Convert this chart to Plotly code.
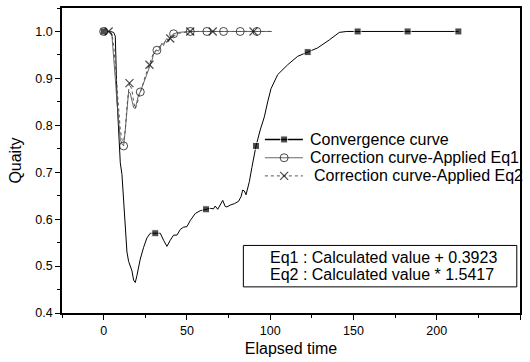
import plotly.graph_objects as go

# ---- data -------------------------------------------------------------
conv_t = [0, 2, 4, 6, 7, 8, 9, 10, 11, 12, 13, 14, 15, 16, 17, 18, 19, 20,
          21, 22, 24, 26, 28, 31, 34, 36, 38, 40, 42, 44, 46, 48, 50, 52,
          55, 58, 61.5, 64, 66, 67, 68.5, 70, 71.5, 73, 74, 76, 78.5, 81,
          82.5, 83.5, 84.5, 85.5, 86.5, 87.5, 89, 91.5, 94, 96.5, 98.5,
          100.5, 104.5, 110.5, 116.5, 122.5, 128.5, 135.5, 141.5, 146,
          152.5, 167, 182.5, 198, 213]
conv_q = [1.0, 1.0, 1.0, 0.998, 0.99, 0.86, 0.77, 0.72, 0.695, 0.64, 0.58,
          0.53, 0.51, 0.50, 0.49, 0.47, 0.465, 0.48, 0.50, 0.515, 0.54,
          0.56, 0.57, 0.57, 0.57, 0.555, 0.542, 0.555, 0.566, 0.566, 0.578,
          0.583, 0.584, 0.597, 0.612, 0.618, 0.621, 0.623, 0.622, 0.628,
          0.621, 0.63, 0.64, 0.627, 0.626, 0.63, 0.633, 0.638, 0.648, 0.662,
          0.66, 0.652, 0.665, 0.68, 0.71, 0.756, 0.79, 0.818, 0.85, 0.878,
          0.908, 0.929, 0.947, 0.956, 0.965, 0.982, 0.998, 1.0, 1.0, 1.0,
          1.0, 1.0, 1.0]
conv_marked = [0, 31, 61.5, 91.5, 122.5, 152.5, 182.5, 213]

eq1_t = [0, 2, 4, 5, 6, 7, 8, 9, 10, 11, 12, 13, 14, 15, 16, 17, 18, 19,
         20, 21, 22, 23, 24, 25, 26, 27, 28, 29, 30, 31, 32, 33, 34, 35, 36,
         37, 38, 39, 40, 41, 42, 45, 52, 62, 72, 82, 92, 101]
eq1_q = [1.0, 1.0, 1.0, 0.99, 0.95, 0.90, 0.85, 0.80, 0.77, 0.76, 0.756,
         0.79, 0.84, 0.872, 0.868, 0.85, 0.838, 0.836, 0.85, 0.865, 0.871,
         0.88, 0.892, 0.90, 0.91, 0.92, 0.928, 0.938, 0.952, 0.955, 0.96,
         0.958, 0.968, 0.975, 0.97, 0.98, 0.985, 0.978, 0.988, 0.992, 0.995,
         0.998, 1.0, 1.0, 1.0, 1.0, 1.0, 1.0]
eq1_marked = [0, 12, 22, 32, 42, 52, 62, 72, 82, 92]

eq2_t = [0, 3, 5, 6, 7, 8, 9, 10, 11, 12, 13, 14, 15.5, 17, 18, 19, 20, 21,
         22, 23, 24, 25, 26, 27.5, 29, 30, 32, 34, 36, 38, 40, 42, 45, 52,
         65.5, 78, 90, 101]
eq2_q = [1.0, 1.0, 0.995, 0.97, 0.93, 0.88, 0.83, 0.79, 0.77, 0.765, 0.79,
         0.84, 0.89, 0.875, 0.85, 0.835, 0.845, 0.86, 0.87, 0.88, 0.895,
         0.905, 0.915, 0.929, 0.945, 0.955, 0.962, 0.97, 0.975, 0.982,
         0.985, 0.99, 0.996, 1.0, 1.0, 1.0, 1.0, 1.0]
eq2_marked = [3, 15.5, 27.5, 40, 52, 65.5, 90]

x_ticks = [0, 50, 100, 150, 200, 250]
y_ticks = [0.4, 0.5, 0.6, 0.7, 0.8, 0.9, 1.0]

series_names = ["Convergence curve",
                "Correction curve-Applied Eq1",
                "Correction curve-Applied Eq2"]
equation_notes = ["Eq1 : Calculated value + 0.3923",
                  "Eq2 : Calculated value * 1.5417"]

FONT = "Liberation Sans, Arial, sans-serif"


def sizes(times, marked, size):
    """Marker size per point: shown only at the marked times."""
    return [size if t in marked else 0 for t in times]


styles = [
    dict(line=dict(color="black", width=1),
         marker=dict(symbol="square", color="black", size=7)),
    dict(line=dict(color="#555555", width=0.9),
         marker=dict(symbol="circle-open", color="black", size=8,
                     line=dict(width=1))),
    dict(line=dict(color="#555555", width=1, dash="dot"),
         marker=dict(symbol="x-thin-open", color="black", size=8,
                     line=dict(width=1.2))),
]

fig = go.Figure()
for name, t, q, marked, st in [
    (series_names[0], conv_t, conv_q, conv_marked, styles[0]),
    (series_names[1], eq1_t, eq1_q, eq1_marked, styles[1]),
    (series_names[2], eq2_t, eq2_q, eq2_marked, styles[2]),
]:
    mk = dict(st["marker"])
    mk["size"] = sizes(t, marked, st["marker"]["size"])
    fig.add_trace(go.Scatter(x=t, y=q, mode="lines+markers", name=name,
                             line=st["line"], marker=mk, showlegend=False))

# ---- hand-built legend on an overlay axis spanning the plot area ------
legend_rows_y = [0.569, 0.509, 0.4495]
key_x = [0.443, 0.485, 0.526]
for i, (name, st) in enumerate(zip(series_names, styles)):
    mk = dict(st["marker"])
    mk["size"] = [0, st["marker"]["size"], 0]
    line = dict(st["line"])
    if i == 0:
        line["width"] = 1.6
    fig.add_trace(go.Scatter(x=key_x, y=[legend_rows_y[i]] * 3,
                             mode="lines+markers", line=line, marker=mk,
                             xaxis="x2", yaxis="y2", showlegend=False,
                             hoverinfo="skip"))
    fig.add_annotation(x=0.537 if i < 2 else 0.546, y=legend_rows_y[i],
                       xref="paper", yref="paper", text=name,
                       showarrow=False, xanchor="left", yanchor="middle",
                       font=dict(family=FONT, size=16, color="black"))

# ---- equation box -----------------------------------------------------
fig.add_shape(type="rect", xref="paper", yref="paper",
              x0=0.396, x1=0.993, y0=0.0857, y1=0.2215,
              line=dict(color="black", width=1), fillcolor="white")
for txt, yy in zip(equation_notes, [0.1834, 0.127]):
    fig.add_annotation(x=0.4498, y=yy, xref="paper", yref="paper",
                       text=txt, showarrow=False, xanchor="left",
                       yanchor="middle",
                       font=dict(family=FONT, size=16, color="black"))

axis_common = dict(showgrid=False, zeroline=False, showline=True,
                   linecolor="black", linewidth=1.5, mirror=True,
                   ticks="outside", ticklen=5, tickcolor="black",
                   tickwidth=1.2,
                   tickfont=dict(family=FONT, size=12.5, color="black"))

fig.update_layout(
    width=530, height=362,
    margin=dict(l=62, r=10, t=6, b=49),
    paper_bgcolor="white", plot_bgcolor="white",
    font=dict(family=FONT, color="black"),
    xaxis=dict(range=[-25, 250], tickvals=x_ticks,
               minor=dict(dtick=25, tick0=0, ticklen=3, ticks="outside",
                          tickcolor="black"),
               title=dict(text="Elapsed time", standoff=6,
                          font=dict(family=FONT, size=16)),
               **axis_common),
    yaxis=dict(range=[0.4, 1.05], tickvals=y_ticks, tickformat=".1f",
               minor=dict(dtick=0.05, tick0=0.4, ticklen=3, ticks="outside",
                          tickcolor="black"),
               title=dict(text="Quaity", standoff=10,
                          font=dict(family=FONT, size=16)),
               **axis_common),
    xaxis2=dict(range=[0, 1], overlaying="x", visible=False),
    yaxis2=dict(range=[0, 1], overlaying="y", visible=False),
)

fig.write_html("out.html")
